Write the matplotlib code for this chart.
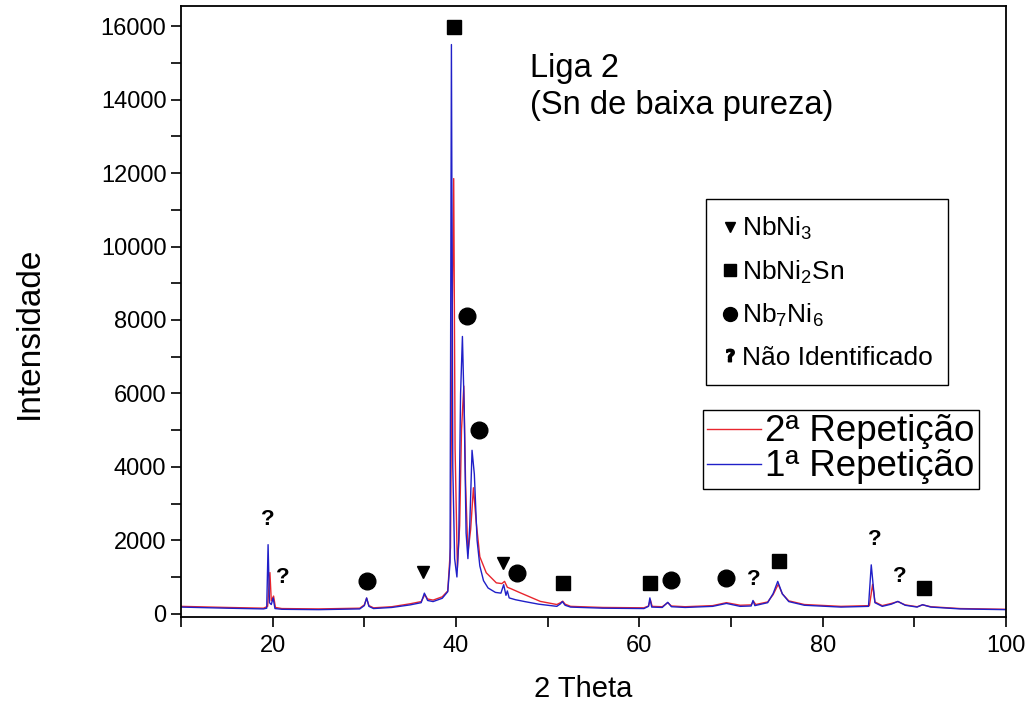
import matplotlib.pyplot as plt
from matplotlib.lines import Line2D

plt.rcParams['font.family'] = ['Liberation Sans', 'DejaVu Sans']
plt.rcParams['mathtext.default'] = 'regular'

# 2 theta points
theta_1 = [10, 15, 19.0, 19.35, 19.5, 19.65, 19.85, 20.05, 20.25, 21, 25, 29.5,
           30.0, 30.25, 30.5, 31, 33, 35, 36.2, 36.55, 36.9, 37.5, 38.5, 39.1,
           39.35, 39.5, 39.65, 39.85, 40.1, 40.3, 40.5, 40.7, 40.9, 41.1, 41.3,
           41.5, 41.75, 42.0, 42.3, 42.6, 43.0, 43.5, 44.3, 44.9, 45.2, 45.45,
           45.6, 45.8, 46.5, 47.5, 49, 51, 51.4, 51.6, 51.9, 52.5, 56, 60.5,
           61.0, 61.15, 61.35, 62.5, 63.1, 63.5, 65, 68, 69.5, 71, 72.2, 72.4,
           72.6, 74.0, 74.6, 75.1, 75.6, 76.3, 78, 82, 85.0, 85.3, 85.5, 85.7,
           86.5, 87.5, 88.2, 89.0, 90.3, 90.9, 91.8, 95, 100]
int_1 = [180, 150, 130, 150, 1880, 300, 250, 430, 140, 120, 110, 130,
         220, 430, 200, 140, 170, 240, 300, 560, 360, 330, 420, 600,
         1400, 15500, 4000, 1500, 1000, 2000, 6000, 7550, 5500, 2200, 1500,
         2400, 4450, 3800, 2000, 1300, 900, 700, 580, 560, 790, 500,
         620, 430, 380, 330, 260, 200, 270, 330, 230, 180, 150, 140,
         200, 430, 180, 170, 310, 190, 170, 200, 280, 200, 210, 360,
         220, 300, 550, 880, 540, 330, 230, 180, 200, 1330, 800, 300,
         200, 260, 335, 230, 180, 245, 180, 130, 110]

theta_2 = [10, 15, 19.0, 19.45, 19.7, 19.85, 20.1, 20.3, 21, 25, 29.5,
           30.0, 30.25, 30.5, 31, 33, 35, 36.2, 36.6, 36.9, 37.5, 38.5, 39.1,
           39.4, 39.6, 39.75, 39.9, 40.15, 40.4, 40.6, 40.85, 41.05, 41.3,
           41.6, 41.9, 42.2, 42.6, 43.3, 44.4, 45.0, 45.3, 45.6, 46.0, 47.0,
           49.2, 51, 51.4, 51.65, 51.9, 52.5, 56, 60.5, 61.0, 61.2, 61.4,
           62.5, 63.1, 63.5, 65, 68, 69.5, 71, 72.2, 72.45, 72.7, 74.0, 74.6,
           75.15, 75.6, 76.3, 78, 82, 85.1, 85.45, 85.7, 86.5, 87.5, 88.2,
           89.0, 90.3, 90.9, 91.8, 95, 100]
int_2 = [200, 170, 150, 200, 1120, 350, 480, 170, 140, 130, 150,
         240, 420, 220, 160, 190, 270, 330, 520, 400, 370, 460, 620,
         1800, 8500, 11850, 4500, 1250, 2400, 5000, 6200, 3500, 1650,
         2300, 3430, 2500, 1550, 1115, 840, 820, 880, 720, 680, 570,
         335, 250, 300, 340, 260, 200, 170, 160, 210, 380, 200,
         190, 300, 210, 190, 220, 300, 230, 240, 340, 250, 320, 520,
         800, 540, 350, 250, 200, 220, 800, 320, 220, 280, 330,
         240, 190, 240, 190, 140, 120]

# phase marks: position, height
nbni3_x = [36.4, 45.1]
nbni3_y = [1140, 1390]
nbni2sn_x = [39.8, 51.7, 61.2, 75.2, 91.0]
nbni2sn_y = [15970, 840, 840, 1440, 710]
nb7ni6_x = [30.3, 41.2, 42.5, 46.6, 63.5, 69.5]
nb7ni6_y = [900, 8100, 5000, 1115, 925, 980]
unknown_x = [19.5, 21.1, 72.5, 85.7, 88.4]
unknown_y = [2560, 980, 925, 2010, 1000]

fig = plt.figure(figsize=(10.32, 7.17), dpi=100)
ax = fig.add_axes([181 / 1032, 1 - 617 / 717, 825 / 1032, 611 / 717])

l2, = ax.plot(theta_2, int_2, color='#e8262e', lw=1.0, label='2ª Repetição')
l1, = ax.plot(theta_1, int_1, color='#2020c8', lw=1.0, label='1ª Repetição')

ax.plot(nbni3_x, nbni3_y, 'v', color='black', ms=9, ls='none')
ax.plot(nbni2sn_x, nbni2sn_y, 's', color='black', ms=10, ls='none')
ax.plot(nb7ni6_x, nb7ni6_y, 'o', color='black', ms=12, ls='none')
for x, y in zip(unknown_x, unknown_y):
    ax.text(x, y, '?', ha='center', va='center', fontsize=16, fontweight='bold')

ax.set_xlim(10, 100)
ax.set_ylim(-90, 16550)
ax.set_xticks([20, 40, 60, 80, 100])
ax.set_xticks(range(10, 101, 10), minor=True)
ax.set_yticks(range(0, 16001, 2000))
ax.set_yticks(range(0, 16001, 1000), minor=True)
ax.tick_params(which='both', direction='out', length=7, width=1.2,
               labelsize=17, top=False, right=False)
ax.tick_params(axis='x', pad=6)
for s in ax.spines.values():
    s.set_linewidth(1.3)

ax.set_xlabel('2 Theta', fontsize=21)
ax.xaxis.set_label_coords(0.488, -0.095)
ax.set_ylabel('Intensidade', fontsize=24)
ax.yaxis.set_label_coords(-0.165, 0.465)

ax.text(48.1, 14350, 'Liga 2\n(Sn de baixa pureza)', fontsize=23.5,
        ha='left', va='center', linespacing=1.25)

phase_handles = [
    Line2D([], [], marker='v', color='black', ls='none', ms=7),
    Line2D([], [], marker='s', color='black', ls='none', ms=8),
    Line2D([], [], marker='o', color='black', ls='none', ms=10),
    Line2D([], [], marker=r'$\mathbf{?}$', color='black', ls='none', ms=9),
]
phase_labels = ['NbNi$_3$', 'NbNi$_2$Sn', 'Nb$_7$Ni$_6$', 'Não Identificado']
leg1 = ax.legend(phase_handles, phase_labels, loc='upper left',
                 bbox_to_anchor=(706 / 1032, 1 - 199 / 717),
                 bbox_transform=fig.transFigure, borderaxespad=0, fontsize=19,
                 handlelength=0.6, handletextpad=0.15, labelspacing=0.62,
                 borderpad=0.6, frameon=True, fancybox=False,
                 edgecolor='black', framealpha=1)
leg1.get_frame().set_linewidth(1.0)
ax.add_artist(leg1)

leg2 = ax.legend([l2, l1], ['2ª Repetição', '1ª Repetição'], loc='upper left',
                 bbox_to_anchor=(703 / 1032, 1 - 410 / 717),
                 bbox_transform=fig.transFigure, borderaxespad=0, fontsize=26.5,
                 handlelength=1.45, handletextpad=0.12, labelspacing=0.0,
                 borderpad=0.12, frameon=True, fancybox=False,
                 edgecolor='black', framealpha=1)
leg2.get_frame().set_linewidth(1.0)

fig.savefig('out.png', dpi=100)
